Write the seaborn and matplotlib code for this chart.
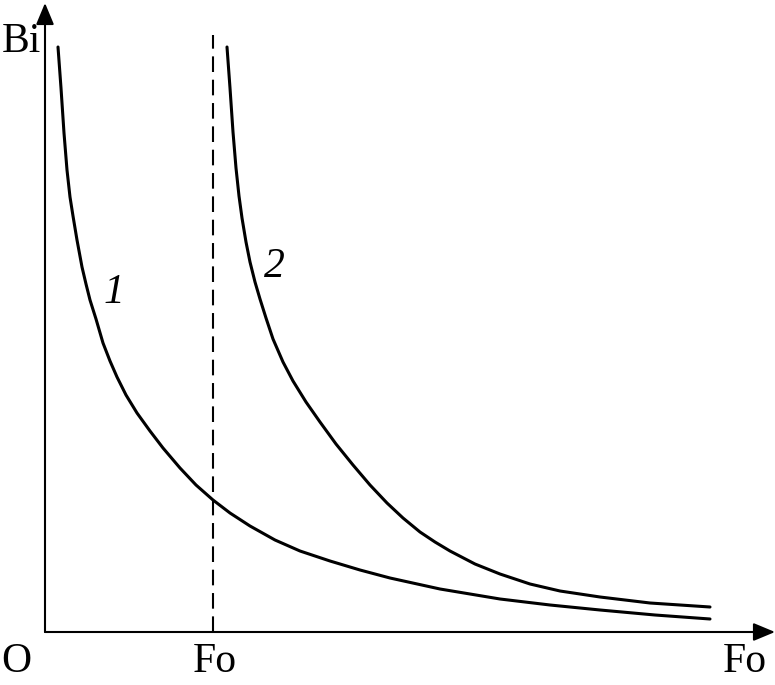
import matplotlib
matplotlib.use("Agg")
import matplotlib.pyplot as plt
import seaborn as sns
import pandas as pd

# curve 1
fo_1 = [0.13, 0.16, 0.19, 0.22, 0.25, 0.28, 0.32, 0.37, 0.41, 0.45, 0.51, 0.58, 0.65, 0.72,
        0.81, 0.92, 1.05, 1.18, 1.35, 1.51, 1.68, 1.85, 2.05, 2.30, 2.55, 2.85, 3.15, 3.45,
        3.95, 4.55, 5.05, 5.55, 6.10, 6.65]
bi_1 = [5.85, 5.44, 4.99, 4.62, 4.35, 4.16, 3.92, 3.65, 3.48, 3.32, 3.13, 2.89, 2.71, 2.55,
        2.37, 2.19, 2.01, 1.84, 1.64, 1.47, 1.32, 1.19, 1.06, 0.92, 0.81, 0.71, 0.62, 0.54,
        0.43, 0.33, 0.27, 0.22, 0.17, 0.13]

# curve 2
fo_2 = [1.82, 1.85, 1.88, 1.91, 1.94, 1.97, 2.01, 2.05, 2.10, 2.15, 2.21, 2.28, 2.38, 2.48,
        2.61, 2.75, 2.91, 3.08, 3.25, 3.42, 3.58, 3.75, 3.90, 4.05, 4.30, 4.55, 4.85, 5.15,
        5.55, 6.05, 6.65]
bi_2 = [5.85, 5.44, 5.00, 4.64, 4.36, 4.14, 3.90, 3.70, 3.50, 3.33, 3.14, 2.93, 2.70, 2.51,
        2.30, 2.10, 1.88, 1.67, 1.47, 1.29, 1.14, 1.00, 0.90, 0.81, 0.68, 0.58, 0.48, 0.41,
        0.35, 0.29, 0.25]

# critical Fo (dashed line)
fo_crit = 1.68
bi_crit_top = 5.97

x_max = 7.30
y_max = 6.29

sns.set_theme(style="white")
plt.rcParams['font.family'] = ['Liberation Serif', 'DejaVu Serif']
plt.rcParams['text.color'] = 'black'

df = pd.concat([
    pd.DataFrame({'Fo': fo_1, 'Bi': bi_1, 'curve': '1'}),
    pd.DataFrame({'Fo': fo_2, 'Bi': bi_2, 'curve': '2'}),
])

fig = plt.figure(figsize=(7.75, 6.85), dpi=100)
ax = fig.add_axes([0, 0, 1, 1])

sns.lineplot(data=df, x='Fo', y='Bi', units='curve', estimator=None,
             sort=False, color='black', linewidth=2.2, ax=ax, legend=False,
             solid_joinstyle='round')

# dashed vertical line
ax.plot([fo_crit, fo_crit], [0, bi_crit_top], color='black', lw=1.5,
        linestyle=(0, (7.5, 3.7)))

# axes with arrows
arrow = dict(arrowstyle='-|>,head_length=0.6,head_width=0.25', mutation_scale=22,
             lw=1.5, color='black', shrinkA=0, shrinkB=0)
ax.annotate('', xy=(x_max, 0), xytext=(0, 0), arrowprops=arrow)
ax.annotate('', xy=(0, y_max), xytext=(0, 0), arrowprops=arrow)

fs = 30
ax.text(-0.235, 5.80, 'Bi', fontsize=fs, ha='center', va='baseline', color='black')
ax.text(-0.29, -0.40, 'O', fontsize=fs, ha='center', va='baseline', color='black')
ax.text(fo_crit + 0.02, -0.40, 'Fo', fontsize=fs, ha='center', va='baseline', color='black')
ax.text(7.00, -0.40, 'Fo', fontsize=fs, ha='center', va='baseline', color='black')
ax.text(0.685, 3.29, '1', fontsize=fs, style='italic', ha='center', va='baseline', color='black')
ax.text(2.29, 3.55, '2', fontsize=fs, style='italic', ha='center', va='baseline', color='black')

ax.set_xlim(-0.45, 7.30)
ax.set_ylim(-0.53, 6.32)
ax.axis('off')

fig.savefig('out.png', dpi=100, facecolor='white')
